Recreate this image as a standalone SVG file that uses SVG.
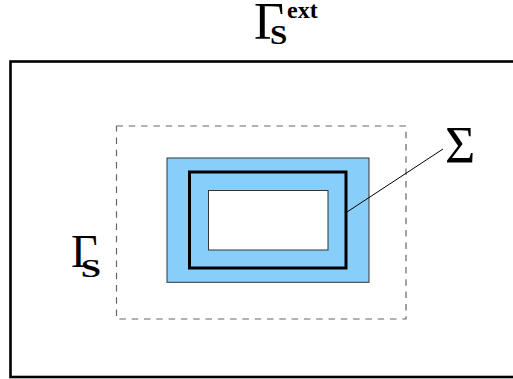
<svg xmlns="http://www.w3.org/2000/svg" width="513" height="379" viewBox="0 0 513 379">
<style>
.lbl{font-family:"Liberation Serif","Times New Roman",serif;fill:#000}
.b{font-weight:bold}
</style>
<rect width="513" height="379" fill="#fff"/>
<g id="outer"><rect x="10.5" y="61.5" width="510" height="315.5" fill="none" stroke="#000" stroke-width="2.6"/></g>
<g id="gammaS"><rect x="116.5" y="126" width="289.5" height="193" fill="none" stroke="#666" stroke-width="1.2" stroke-dasharray="6.5,5.8"/></g>
<g id="band"><rect x="167" y="158" width="202" height="124.3" fill="#87CEFA" stroke="#333" stroke-width="1"/></g>
<g id="sigma"><rect x="189.5" y="172" width="156.5" height="96" fill="none" stroke="#000" stroke-width="3"/></g>
<g id="hole"><rect x="208.5" y="190.5" width="119.5" height="59.5" fill="#fff" stroke="#333" stroke-width="1"/></g>
<g id="connectors"><line x1="347" y1="212" x2="443" y2="149" stroke="#000" stroke-width="1"/></g>
<g id="labels">
<text class="lbl" x="445" y="163" font-size="52">Σ</text>
<text class="lbl" x="254" y="38.5" font-size="52">Γ</text>
<text class="lbl b" transform="translate(270,44.3) scale(1.15,1)" font-size="27">S</text>
<text class="lbl b" x="287" y="17.5" font-size="24">ext</text>
<text class="lbl" x="71" y="266.7" font-size="46">Γ</text>
<text class="lbl b" transform="translate(80.7,277.3) scale(1.4,1)" font-size="26">S</text>
</g>
</svg>
